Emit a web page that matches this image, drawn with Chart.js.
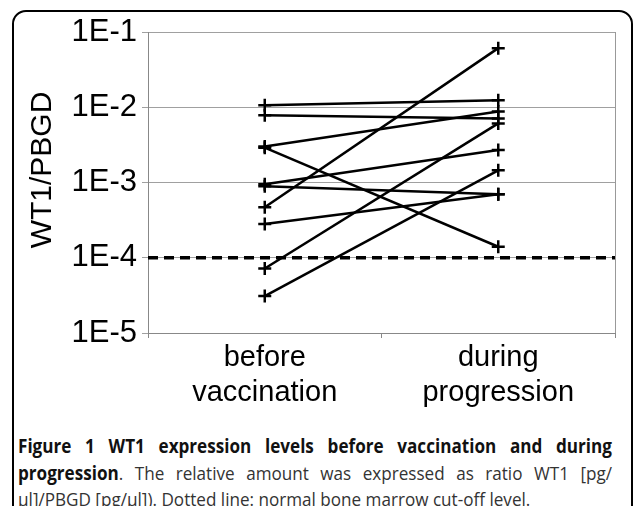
<!DOCTYPE html>
<html>
<head>
<meta charset="utf-8">
<script src="https://cdn.jsdelivr.net/npm/chart.js@4/dist/chart.umd.min.js"></script>
<style>
  html, body { margin: 0; padding: 0; background: #fff; }
  body { width: 633px; height: 506px; position: relative; overflow: hidden; font-family: "Open Sans", sans-serif; }
  #moldura { position: absolute; left: 12px; top: 10px; width: 621px; height: 520px; border: 2px solid #000; border-radius: 14px; box-sizing: border-box; }
  #caixa { position: absolute; left: 0; top: 0; width: 633px; height: 420px; }
  #legenda { position: absolute; left: 18px; top: 433px; width: 660px; font-size: 19px; line-height: 26.5px; color: #333;
             transform: scaleX(0.9); transform-origin: left top; }
  #legenda b { color: #111; }
  .just { text-align: justify; text-align-last: justify; }
</style>
</head>
<body>
<div id="moldura"></div>
<div id="caixa"><canvas id="grafico" width="633" height="420"></canvas></div>
<div id="legenda">
  <div class="just"><b>Figure 1 WT1 expression levels before vaccination and during</b></div>
  <div class="just"><b>progression</b>. The relative amount was expressed as ratio WT1 [pg/</div>
  <div>µl]/PBGD [pg/µl]). Dotted line: normal bone marrow cut-off level.</div>
</div>
<script>
// dados
let categorias = [["before", "vaccination"], ["during", "progression"]];
let antes = [0.0106, 0.0078, 0.0030, 0.0029, 0.00047, 0.00095, 0.00089, 0.00028, 0.000072, 0.000031];
let durante = [0.0124, 0.0071, 0.0088, 0.00014, 0.061, 0.0027, 0.0007, 0.0007, 0.0061, 0.00145];
let ticksY = [1e-5, 1e-4, 1e-3, 1e-2, 1e-1];
let rotulosY = ["1E-5", "1E-4", "1E-3", "1E-2", "1E-1"];
let corte = 1e-4;

// uma linha por paciente
let conjuntos = antes.map((valor, i) => ({
  data: [valor, durante[i]],
  borderColor: "#000",
  borderWidth: 2.5,
  pointStyle: "cross",
  pointRadius: 6.5,
  pointBorderWidth: 2.5,
  pointBorderColor: "#000",
  fill: false,
  tension: 0
}));

// linha tracejada do cut-off e lado direito da area
let linhaCorte = {
  id: "linhaCorte",
  beforeDatasetsDraw(chart) {
    let ctx = chart.ctx;
    let area = chart.chartArea;
    let y = chart.scales.y.getPixelForValue(corte);
    ctx.save();
    ctx.strokeStyle = "#999";
    ctx.lineWidth = 1;
    ctx.beginPath();
    ctx.moveTo(area.right + 0.5, area.top);
    ctx.lineTo(area.right + 0.5, area.bottom);
    ctx.stroke();
    ctx.strokeStyle = "#000";
    ctx.lineWidth = 3.5;
    ctx.setLineDash([10, 6]);
    ctx.beginPath();
    ctx.moveTo(area.left, y);
    ctx.lineTo(area.right, y);
    ctx.stroke();
    ctx.restore();
  }
};

let fonte = "'Liberation Sans', Arial, sans-serif";
let ctx = document.getElementById("grafico").getContext("2d");

new Chart(ctx, {
  type: "line",
  data: {
    labels: categorias,
    datasets: conjuntos
  },
  plugins: [linhaCorte],
  options: {
    responsive: false,
    animation: false,
    layout: { padding: { left: 20, top: 32, right: 18, bottom: 7 } },
    plugins: {
      legend: { display: false },
      tooltip: { enabled: false }
    },
    scales: {
      x: {
        type: "category",
        offset: true,
        afterFit(scale) {
          scale.height = 80;
        },
        grid: { offset: true, drawOnChartArea: false, tickLength: 5, color: "#888" },
        border: { color: "#888" },
        ticks: {
          color: "#000",
          padding: 3,
          maxRotation: 0,
          font: { family: fonte, size: 29, lineHeight: 1.2 }
        }
      },
      y: {
        type: "logarithmic",
        min: 1e-5,
        max: 1e-1,
        afterBuildTicks(scale) {
          scale.ticks = ticksY.map(v => ({ value: v }));
        },
        afterFit(scale) {
          scale.width = 128;
        },
        grid: { color: "#a0a0a0", tickLength: 6 },
        border: { color: "#888" },
        ticks: {
          color: "#000",
          padding: 5,
          font: { family: fonte, size: 31 },
          callback: function (value) {
            let i = ticksY.findIndex(t => Math.abs(t - value) / t < 1e-6);
            return i >= 0 ? rotulosY[i] : "";
          }
        },
        title: {
          display: true,
          text: "   WT1/PBGD",
          color: "#000",
          padding: { top: 5 },
          font: { family: fonte, size: 30 }
        }
      }
    }
  }
});
</script>
</body>
</html>
